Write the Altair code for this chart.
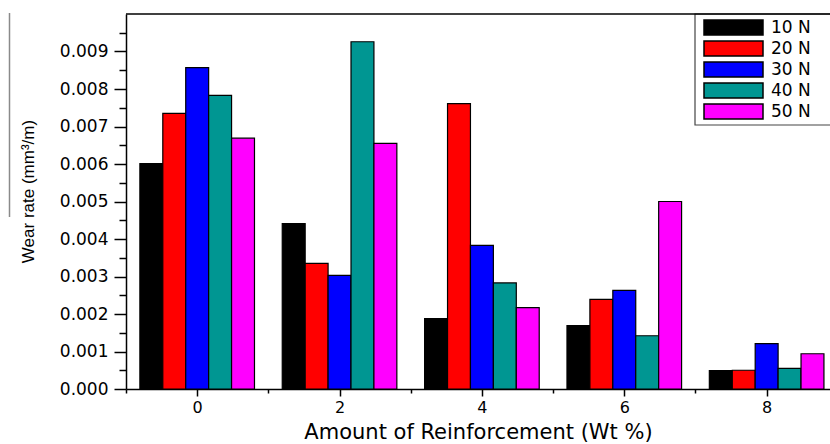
import json

import altair as alt
import pandas as pd

# Wear rate (mm^3/m) by reinforcement content (wt %) for each applied load
wt_percent = [0, 2, 4, 6, 8]
loads = ["10 N", "20 N", "30 N", "40 N", "50 N"]
wear_10n = [0.00601, 0.00441, 0.00188, 0.00169, 0.00049]
wear_20n = [0.00735, 0.00335, 0.00761, 0.00239, 0.00050]
wear_30n = [0.00857, 0.00303, 0.00383, 0.00263, 0.00121]
wear_40n = [0.00783, 0.00926, 0.00283, 0.00142, 0.00055]
wear_50n = [0.00669, 0.00655, 0.00217, 0.00500, 0.00094]
load_colors = ["#000000", "#ff0000", "#0000ff", "#009692", "#ff00ff"]

rows = []
for load, series in zip(loads, [wear_10n, wear_20n, wear_30n, wear_40n, wear_50n]):
    for wt, v in zip(wt_percent, series):
        rows.append({"wt": wt, "load": load, "wear": v})
df = pd.DataFrame(rows)

FONT = "DejaVu Sans"
W, H = 704, 375
BAR = 0.322  # width of one bar in x-axis units

major_y = "round(datum.value * 10000) % 10 == 0"

bars = (
    alt.Chart(df)
    .transform_calculate(slot=f"indexof({json.dumps(loads)}, datum.load)")
    .transform_calculate(
        left=f"datum.wt + (datum.slot - 2.5) * {BAR}",
        right=f"datum.wt + (datum.slot - 1.5) * {BAR}",
    )
    .mark_rect(stroke="black", strokeWidth=1.2)
    .encode(
        x=alt.X(
            "left:Q",
            scale=alt.Scale(domain=[-1, 8.89], nice=False, zero=False),
            axis=alt.Axis(
                values=list(range(-1, 9)),
                labelExpr="datum.value >= 0 && datum.value % 2 == 0 ? datum.label : ''",
                tickSize={"condition": {"test": "datum.value % 2 == 0", "value": 7}, "value": 4},
                labelFlush=False,
                labelOverlap=False,
                grid=False,
                domainColor="black",
                domainWidth=1.5,
                tickColor="black",
                tickWidth=1.5,
                labelFont=FONT,
                labelFontSize=16,
                labelColor="black",
                labelPadding=3,
                title="Amount of Reinforcement (Wt %)",
                titleFont=FONT,
                titleFontSize=21,
                titleFontWeight="normal",
                titleColor="black",
                titleBaseline="middle",
                titleY=43,
            ),
        ),
        x2="right:Q",
        y=alt.Y(
            "wear:Q",
            scale=alt.Scale(domain=[0, 0.010], nice=False),
            axis=alt.Axis(
                values=[i * 0.0005 for i in range(20)],
                labelExpr=f"{major_y} ? format(datum.value, '.3f') : ''",
                tickSize={"condition": {"test": major_y, "value": 12}, "value": 7},
                labelOverlap=False,
                grid=False,
                domainColor="black",
                domainWidth=1.5,
                tickColor="black",
                tickWidth=1.5,
                labelFont=FONT,
                labelFontSize=17,
                labelColor="black",
                labelPadding=6,
                title="Wear rate (mm³/m)",
                titleFont="Liberation Sans",
                titleFontSize=17,
                titleFontWeight="normal",
                titleColor="black",
                titleAngle=-90,
                titleAlign="center",
                titleBaseline="middle",
                titleX=-98,
                titleY=177,
            ),
        ),
        y2=alt.datum(0),
        color=alt.Color(
            "load:N",
            scale=alt.Scale(domain=loads, range=load_colors),
            legend=alt.Legend(
                title=None,
                orient="none",
                legendX=569,
                legendY=0,
                direction="vertical",
                symbolType="M-1,-0.254L1,-0.254L1,0.254L-1,0.254Z",
                symbolSize=3481,
                symbolStrokeColor="black",
                symbolStrokeWidth=1.5,
                symbolOpacity=1,
                clipHeight=21,
                rowPadding=0,
                padding=3,
                symbolOffset=5,
                labelOffset=7,
                labelFont=FONT,
                labelFontSize=17,
                labelColor="black",
            ),
        ),
    )
)

# legend frame, running off the right edge of the figure
legend_box = (
    alt.Chart(pd.DataFrame({"edge": [0]}))
    .mark_rect(fill="white", stroke="#444444", strokeWidth=1.2)
    .encode(x=alt.value(569), x2=alt.value(720), y=alt.value(0), y2=alt.value(111))
)

# top edge of the plot frame
frame_top = (
    alt.Chart(pd.DataFrame({"edge": [0]}))
    .mark_rule(color="black", strokeWidth=1.5)
    .encode(x=alt.value(0), x2=alt.value(W), y=alt.value(0))
)

# thin gray rule beside the y-axis title
side_rule = (
    alt.Chart(pd.DataFrame({"edge": [0]}))
    .mark_rule(color="#8a8a8a", strokeWidth=1.5)
    .encode(x=alt.value(-116.5), y=alt.value(-1), y2=alt.value(203))
)

chart = (
    alt.layer(legend_box, bars, frame_top, side_rule)
    .properties(
        width=W,
        height=H,
        autosize=alt.AutoSizeParams(type="none"),
        padding={"left": 126, "top": 14, "right": 0, "bottom": 55},
        background="white",
    )
    .configure_view(stroke=None)
)

chart.save("out.html", embed_options={"renderer": "svg", "actions": False})
